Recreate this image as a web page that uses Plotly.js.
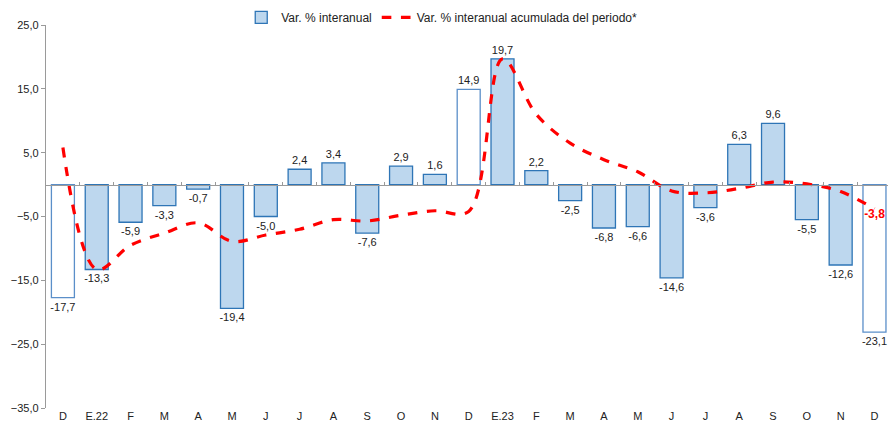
<!DOCTYPE html>
<html>
<head>
<meta charset="utf-8">
<script src="https://cdn.plot.ly/plotly-3.0.1.min.js"></script>
<style>html,body{margin:0;padding:0;background:#fff;}#chart{width:888px;height:426px;}</style>
</head>
<body>
<div id="chart"></div>
<script>
const monthLabels = ["D","E.22","F","M","A","M","J","J","A","S","O","N","D","E.23","F","M","A","M","J","J","A","S","O","N","D"];
const monthlyVar = [-17.7,-13.3,-5.9,-3.3,-0.7,-19.4,-5.0,2.4,3.4,-7.6,2.9,1.6,14.9,19.7,2.2,-2.5,-6.8,-6.6,-14.6,-3.6,6.3,9.6,-5.5,-12.6,-23.1];
const cumulativeVar = [5.8,-13.3,-9.5,-7.6,-6.0,-8.9,-7.9,-7.0,-5.5,-5.7,-4.8,-4.1,-4.2,19.7,11.0,6.5,3.9,2.0,-1.0,-1.3,-0.6,0.4,0.1,-1.1,-3.8];
const decemberIdx = [0,12,24];

const fmt = v => v.toFixed(1).replace('.', ',');
const idx = monthLabels.map((_, i) => i);
const fillColors = idx.map(i => decemberIdx.includes(i) ? '#FFFFFF' : '#BDD7EE');
const lineColors = idx.map(i => decemberIdx.includes(i) ? '#5B8FC9' : '#2E75B6');
const lastText = cumulativeVar.map((v, i) => i === cumulativeVar.length - 1 ? fmt(v) : '');

const font = "'Liberation Sans', Arial, sans-serif";

const traces = [
  {
    type: 'bar', x: [null], y: [null], name: 'Var. % interanual',
    marker: {color: '#BDD7EE', line: {color: '#2E75B6', width: 1.3}},
    hoverinfo: 'skip'
  },
  {
    type: 'bar', x: idx, y: monthlyVar, name: 'Var. % interanual', showlegend: false,
    marker: {color: fillColors, line: {color: lineColors, width: 1.3}},
    text: monthlyVar.map(fmt), textposition: 'outside', constraintext: 'none',
    cliponaxis: false, textfont: {family: font, size: 11, color: '#222'},
    hoverinfo: 'skip'
  },
  {
    type: 'scatter', mode: 'lines+text', x: idx, y: cumulativeVar,
    name: 'Var. % interanual acumulada del periodo*',
    line: {color: '#FF0000', width: 3.2, dash: 'dash', shape: 'spline', smoothing: 1},
    text: lastText, textposition: 'bottom center', cliponaxis: false,
    textfont: {family: font, size: 12, color: '#FF0000', weight: 'bold'},
    hoverinfo: 'skip'
  },
  {
    type: 'scatter', mode: 'markers', x: [0], y: [null], xaxis: 'x2', yaxis: 'y',
    showlegend: false, hoverinfo: 'skip', marker: {opacity: 0}
  }
];

const layout = {
  width: 888, height: 426,
  margin: {l: 46, r: 0, t: 25, b: 18},
  paper_bgcolor: '#fff', plot_bgcolor: '#fff',
  separators: ',.',
  barmode: 'overlay',
  bargap: 0.32,
  showlegend: true,
  legend: {orientation: 'h', x: 0.47, xanchor: 'center', y: 1.02, yanchor: 'middle',
           font: {family: font, size: 12, color: '#222'}, traceorder: 'normal',
           bgcolor: 'rgba(0,0,0,0)'},
  xaxis: {
    range: [-0.5, 24.4], tickvals: idx, ticktext: monthLabels,
    showline: false, ticks: '', showgrid: false, zeroline: false,
    tickfont: {family: font, size: 11, color: '#222'}, fixedrange: true
  },
  xaxis2: {
    overlaying: 'x', matches: 'x', anchor: 'free', position: 0.5833,
    range: [-0.5, 24.4], showline: true, linecolor: '#9A9A9A', linewidth: 1.5,
    tickvals: idx.map(i => i + 0.5), ticks: 'inside', ticklen: 3, tickcolor: '#9A9A9A',
    showticklabels: false, showgrid: false, zeroline: false
  },
  yaxis: {
    range: [-35, 25], tick0: 5, dtick: 10, tickformat: '.1f',
    showline: true, linecolor: '#9A9A9A', linewidth: 1.2,
    ticks: 'outside', ticklen: 4, tickcolor: '#9A9A9A',
    showgrid: false, zeroline: false,
    tickfont: {family: font, size: 11, color: '#222'}
  }
};

Plotly.newPlot('chart', traces, layout, {staticPlot: true});
</script>
</body>
</html>
